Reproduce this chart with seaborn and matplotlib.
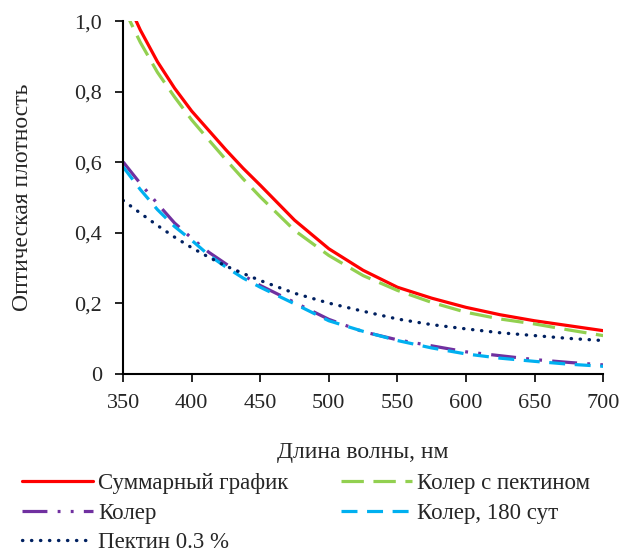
import matplotlib
matplotlib.use('Agg')
import matplotlib.pyplot as plt
import seaborn as sns
import pandas as pd

# wavelengths, nm
wavelength = [350, 362.5, 375, 387.5, 400, 412.5, 425, 437.5, 450, 475, 500, 525,
              550, 575, 600, 625, 650, 675, 700]

# optical density
summary = [1.08, 0.975, 0.885, 0.81, 0.745, 0.69, 0.635, 0.583, 0.535, 0.436, 0.355,
           0.294, 0.246, 0.215, 0.189, 0.168, 0.151, 0.137, 0.123]
koler_pectin = [1.04, 0.94, 0.855, 0.785, 0.72, 0.663, 0.607, 0.553, 0.502, 0.407,
                0.336, 0.279, 0.237, 0.203, 0.175, 0.156, 0.142, 0.125, 0.109]
koler = [0.601, 0.54, 0.483, 0.428, 0.385, 0.345, 0.312, 0.28, 0.251, 0.203, 0.155,
         0.12, 0.097, 0.080, 0.063, 0.052, 0.041, 0.033, 0.026]
koler_180 = [0.587, 0.523, 0.466, 0.418, 0.379, 0.337, 0.303, 0.272, 0.246, 0.199,
             0.151, 0.121, 0.095, 0.074, 0.057, 0.045, 0.036, 0.028, 0.022]
pectin = [0.492, 0.456, 0.421, 0.388, 0.358, 0.331, 0.306, 0.285, 0.265, 0.229, 0.201,
          0.178, 0.156, 0.140, 0.128, 0.117, 0.109, 0.101, 0.095]

labels = ['Суммарный график', 'Колер с пектином', 'Колер', 'Колер, 180 сут', 'Пектин 0.3 %']
x_ticks = [350, 400, 450, 500, 550, 600, 650, 700]
y_ticks = [0, 0.2, 0.4, 0.6, 0.8, 1.0]
y_tick_labels = ['0', '0,2', '0,4', '0,6', '0,8', '1,0']

sns.set_style('ticks')
plt.rcParams['font.family'] = ['Liberation Serif', 'DejaVu Serif']

fig = plt.figure(figsize=(6.25, 5.55), dpi=100)
ax = fig.add_axes([0.197, 0.326, 0.768, 0.636])

series = [summary, koler_pectin, koler, koler_180, pectin]
colors = ['#ff0000', '#92d050', '#7030a0', '#00b0f0', '#002060']
styles = ['-', (0, (7, 3)), (0, (7.8, 3.2, 0.9, 3.2, 0.9, 3.2)), (0, (5, 3)), (0, (0.1, 2.6))]
caps = ['butt', 'butt', 'butt', 'butt', 'round']
widths = [2.3, 2.3, 2.3, 2.3, 2.4]

for vals, lab, col, ls, cap, lw in zip(series, labels, colors, styles, caps, widths):
    df = pd.DataFrame({'x': wavelength, 'y': vals})
    sns.lineplot(data=df, x='x', y='y', ax=ax, color=col, label=lab,
                 linewidth=lw, ls=ls)
    ax.lines[-1].set_dash_capstyle(cap)

ax.set_xlim(350, 700)
ax.set_ylim(0, 1.0)
ax.set_xticks(x_ticks)
ax.set_yticks(y_ticks)
ax.set_yticklabels(y_tick_labels)
ax.tick_params(labelsize=16, direction='out', length=6, width=1.2, color='black')
ax.tick_params(axis='y', pad=9)
ax.tick_params(axis='x', pad=8)
for s in ['left', 'bottom']:
    ax.spines[s].set_color('black')
    ax.spines[s].set_linewidth(1.5)
sns.despine(ax=ax)

ax.set_xlabel('Длина волны, нм', fontsize=17, labelpad=21)
ax.set_ylabel('Оптическая плотность', fontsize=17, labelpad=30)

# legend is filled row by row in the reference
handles, labs = ax.get_legend_handles_labels()
ax.get_legend().remove()
order = [0, 2, 4, 1, 3]
fig.legend([handles[i] for i in order], [labs[i] for i in order], ncol=2,
           loc='upper left', bbox_to_anchor=(0.035, 0.148), frameon=False,
           fontsize=16.5, handlelength=3.1, handletextpad=0.22, columnspacing=2.3,
           labelspacing=0.38, borderaxespad=0, borderpad=0)

fig.savefig('out.png', dpi=100)
